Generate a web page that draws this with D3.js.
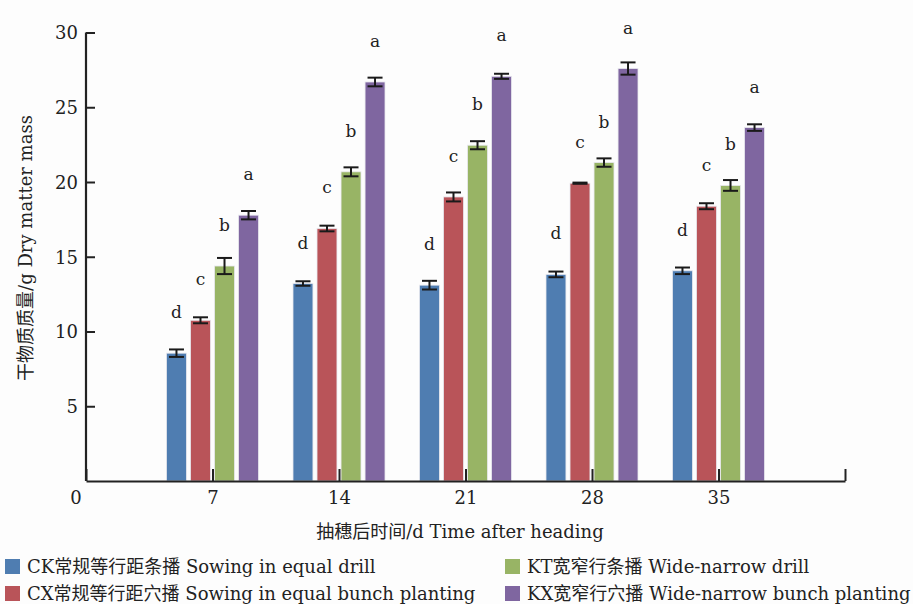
<!DOCTYPE html>
<html>
<head>
<meta charset="utf-8">
<script src="https://cdn.jsdelivr.net/npm/d3@7/dist/d3.min.js"></script>
<style>
  html, body { margin: 0; padding: 0; background: #fdfdfd; }
  svg { display: block; }
  svg text { font-family: "DejaVu Serif", "Noto Sans CJK SC", serif; }
</style>
</head>
<body>
<svg id="chart" width="913" height="604"></svg>
<script>
// Days after heading
const days = [7, 14, 21, 28, 35];
const xTicks = [0, 7, 14, 21, 28, 35, 42];
const yTicks = [5, 10, 15, 20, 25, 30];

// Series names (Chinese + English)
const seriesNames = [
  "CK常规等行距条播 Sowing in equal drill",
  "CX常规等行距穴播 Sowing in equal bunch planting",
  "KT宽窄行条播 Wide-narrow drill",
  "KX宽窄行穴播 Wide-narrow bunch planting"
];

// Dry matter mass (g) per treatment
const ckValues = [8.55, 13.21, 13.10, 13.82, 14.06];
const cxValues = [10.75, 16.89, 19.00, 19.92, 18.38];
const ktValues = [14.38, 20.68, 22.46, 21.30, 19.77];
const kxValues = [17.78, 26.69, 27.07, 27.59, 23.64];

// Standard errors
const ckErrors = [0.25, 0.15, 0.29, 0.19, 0.22];
const cxErrors = [0.20, 0.19, 0.30, 0.04, 0.20];
const ktErrors = [0.54, 0.30, 0.27, 0.28, 0.36];
const kxErrors = [0.28, 0.29, 0.17, 0.41, 0.22];

// Significance letters
const ckLetters = ["d", "d", "d", "d", "d"];
const cxLetters = ["c", "c", "c", "c", "c"];
const ktLetters = ["b", "b", "b", "b", "b"];
const kxLetters = ["a", "a", "a", "a", "a"];

const colors = ["#4f7db1", "#b95459", "#98b465", "#7f66a0"];

const series = [
  { name: seriesNames[0], values: ckValues, errors: ckErrors, letters: ckLetters },
  { name: seriesNames[1], values: cxValues, errors: cxErrors, letters: cxLetters },
  { name: seriesNames[2], values: ktValues, errors: ktErrors, letters: ktLetters },
  { name: seriesNames[3], values: kxValues, errors: kxErrors, letters: kxLetters }
];

const svg = d3.select("#chart");
const axisColor = "#222";
const textColor = "#222";
const fontStack = '"DejaVu Serif", "Noto Sans CJK SC", serif';

const x = d3.scaleLinear().domain([0, 42]).range([86, 845]);
const y = d3.scaleLinear().domain([0, 30]).range([481, 32.5]);

// offsets of the four bars inside a group
const inner = d3.scaleBand().domain(d3.range(series.length)).range([-46, 46]).paddingInner(0.17);

// Bars, error bars and significance letters
series.forEach((s, si) => {
  const g = svg.append("g");
  const rows = days.map((d, i) => ({ day: d, v: s.values[i], e: s.errors[i], l: s.letters[i] }));
  g.selectAll("rect").data(rows).join("rect")
    .attr("x", d => x(d.day) + inner(si))
    .attr("y", d => y(d.v))
    .attr("width", inner.bandwidth())
    .attr("height", d => y(0) - y(d.v))
    .attr("fill", colors[si])
    .attr("stroke", "#e8e8ee")
    .attr("stroke-width", 0.8);

  const cx = d => x(d.day) + inner(si) + inner.bandwidth() / 2;
  const cap = 7.5;
  const eb = g.selectAll("g.err").data(rows).join("g").attr("class", "err")
    .attr("stroke", "#1a1a1a").attr("stroke-width", 2);
  eb.append("line").attr("x1", cx).attr("x2", cx)
    .attr("y1", d => y(d.v + d.e)).attr("y2", d => y(d.v - d.e));
  eb.append("line").attr("x1", d => cx(d) - cap).attr("x2", d => cx(d) + cap)
    .attr("y1", d => y(d.v + d.e)).attr("y2", d => y(d.v + d.e));
  eb.append("line").attr("x1", d => cx(d) - cap).attr("x2", d => cx(d) + cap)
    .attr("y1", d => y(d.v - d.e)).attr("y2", d => y(d.v - d.e));

  g.selectAll("text").data(rows).join("text")
    .attr("x", cx)
    .attr("y", d => y(d.v) - 35)
    .attr("text-anchor", "middle")
    .attr("font-size", 17)
    .attr("fill", textColor)
    .text(d => d.l);
});

// Y axis (ticks point inward)
const yAxis = d3.axisRight(y).tickValues(yTicks).tickSize(9).tickSizeOuter(0).tickFormat(d3.format("d"));
const yg = svg.append("g").attr("transform", `translate(${x(0)},0)`).call(yAxis)
  .attr("font-family", fontStack).attr("font-size", 18);
yg.select(".domain").attr("stroke", axisColor).attr("stroke-width", 2.2)
  .attr("d", `M0,${y(30)}V${y(0)}`);
yg.selectAll(".tick line").attr("stroke", axisColor).attr("stroke-width", 2);
yg.selectAll(".tick text").attr("x", -8).attr("text-anchor", "end")
  .attr("fill", textColor).attr("dy", "0.35em");

// X axis (ticks point upward)
const xAxis = d3.axisBottom(x).tickValues(xTicks).tickSize(-12).tickSizeOuter(0)
  .tickFormat(d => (d === 0 || d === 42) ? "" : d);
const xg = svg.append("g").attr("transform", `translate(0,${y(0)})`).call(xAxis)
  .attr("font-family", fontStack).attr("font-size", 18);
xg.select(".domain").attr("stroke", axisColor).attr("stroke-width", 2.2);
xg.selectAll(".tick line").attr("stroke", axisColor).attr("stroke-width", 2);
xg.selectAll(".tick text").attr("y", 10).attr("dy", "0.71em").attr("fill", textColor);

// origin label
svg.append("text").attr("x", x(0) - 10).attr("y", y(0) + 23)
  .attr("text-anchor", "middle").attr("font-size", 18).attr("fill", textColor).text("0");

// Axis titles
svg.append("text").attr("x", 460).attr("y", 538)
  .attr("text-anchor", "middle").attr("font-size", 18).attr("fill", textColor)
  .text("抽穗后时间/d Time after heading");
svg.append("text").attr("transform", "translate(32,248) rotate(-90)")
  .attr("text-anchor", "middle").attr("font-size", 18).attr("fill", textColor)
  .text("干物质质量/g Dry matter mass");

// Legend
const legendPos = [[5, 567], [5, 594], [505, 567], [505, 594]];
series.forEach((s, i) => {
  const [lx, ly] = legendPos[i];
  const lg = svg.append("g").attr("transform", `translate(${lx},${ly})`);
  lg.append("rect").attr("x", 0).attr("y", -8).attr("width", 15).attr("height", 15).attr("fill", colors[i]);
  lg.append("text").attr("x", 22).attr("y", 6).attr("font-size", 18).attr("fill", textColor).text(s.name);
});
</script>
</body>
</html>
